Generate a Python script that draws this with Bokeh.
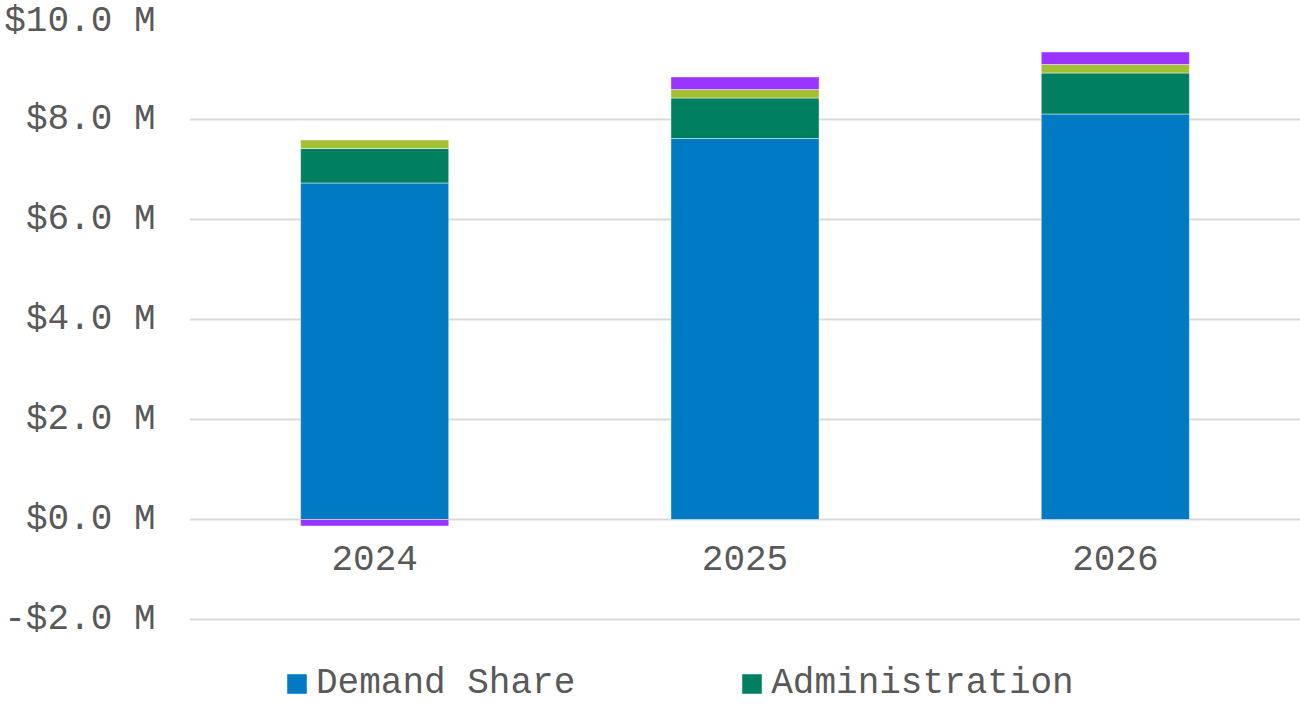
from bokeh.plotting import figure
from bokeh.models import (ColumnDataSource, FactorRange, Range1d, FixedTicker,
                          CustomJSTickFormatter, Legend, LegendItem)
from bokeh.core.properties import value
from bokeh.embed import file_html
from bokeh.resources import INLINE

# ---- data (dollars) ----
years = ["2024", "2025", "2026"]
demand_share = [6.73e6, 7.62e6, 8.11e6]
administration = [0.69e6, 0.81e6, 0.82e6]
other_income = [0.17e6, 0.17e6, 0.17e6]
adjustments = [-0.13e6, 0.25e6, 0.25e6]
y_ticks = [-2e6, 0, 2e6, 4e6, 6e6, 8e6, 10e6]

series_names = ["Demand Share", "Administration", "Other Income", "Adjustments"]
series_vals = [demand_share, administration, other_income, adjustments]
colors = ["#007AC2", "#008060", "#A4BF31", "#9933FF"]
legend_shown = ["Demand Share", "Administration"]

FONT = "Courier New, Liberation Mono, monospace"
TXT = "#595959"

p = figure(width=1300, height=705, x_range=FactorRange(*years),
           y_range=Range1d(-3.72e6, 10e6), output_backend="svg",
           toolbar_location=None, min_border_left=189, min_border_right=0,
           min_border_top=19, min_border_bottom=0)
p.outline_line_color = None
p.xaxis.visible = False
p.xgrid.grid_line_color = None
p.ygrid.grid_line_color = "#d9d9d9"
p.ygrid.grid_line_width = 2
p.yaxis.ticker = FixedTicker(ticks=y_ticks)
p.yaxis.formatter = CustomJSTickFormatter(code="""
    const m = Math.abs(tick) / 1e6;
    return (tick < 0 ? '-' : '') + '$' + m.toFixed(1) + ' M';
""")
p.yaxis.axis_line_color = None
p.yaxis.major_tick_line_color = None
p.yaxis.minor_tick_line_color = None
p.yaxis.major_label_text_font = FONT
p.yaxis.major_label_text_font_size = "36px"
p.yaxis.major_label_text_color = TXT
p.yaxis.major_label_standoff = 28

# stacking positives upward and negatives downward
pos_base = [0.0] * len(years)
neg_base = [0.0] * len(years)
renderers = {}
for name, vals, col in zip(series_names, series_vals, colors):
    bottoms, tops = [], []
    for i, v in enumerate(vals):
        if v >= 0:
            bottoms.append(pos_base[i]); tops.append(pos_base[i] + v); pos_base[i] += v
        else:
            tops.append(neg_base[i]); bottoms.append(neg_base[i] + v); neg_base[i] += v
    src = ColumnDataSource(dict(x=years, bottom=bottoms, top=tops))
    r = p.vbar(x="x", bottom="bottom", top="top", width=0.4, source=src,
               fill_color=col, line_color="white", line_alpha=0.45, line_width=1)
    renderers[name] = r

# category labels along the zero line
lab_src = ColumnDataSource(dict(x=years, y=[0] * len(years), t=years))
p.text(x="x", y="y", text="t", source=lab_src, text_font=value(FONT),
       text_font_size="36px", text_color=TXT, text_align="center",
       text_baseline="middle", y_offset=38)

legend = Legend(items=[LegendItem(label=n, renderers=[renderers[n]]) for n in legend_shown],
                orientation="horizontal", location=(95, 1), padding=0, spacing=164,
                label_standoff=7, glyph_width=25, glyph_height=25, label_height=28,
                label_text_font=FONT, label_text_font_size="36px", label_text_color=TXT,
                border_line_alpha=0, background_fill_alpha=0)
p.add_layout(legend, "center")

open("out.html", "w").write(file_html(p, INLINE))
